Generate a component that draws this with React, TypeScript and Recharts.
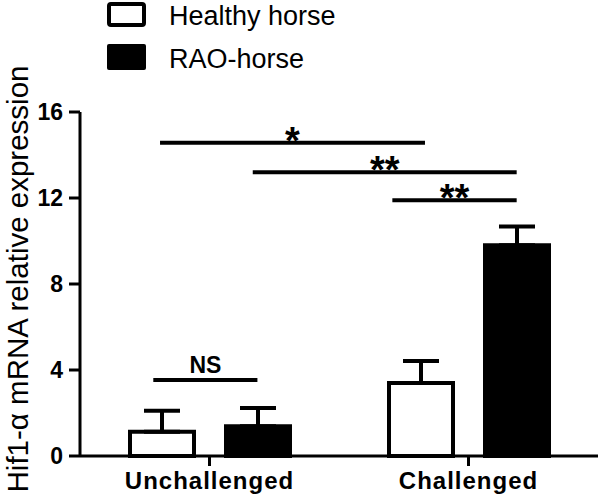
import React from 'react';
import {
  ComposedChart,
  Bar,
  XAxis,
  YAxis,
  ErrorBar,
  ReferenceLine,
} from 'recharts';

// values
const categories = ['Unchallenged', 'Challenged'];
const healthyMean = [1.13, 3.4];
const healthyErr = [0.98, 1.02];
const raoMean = [1.38, 9.8];
const raoErr = [0.85, 0.87];
const yTicks = [0, 4, 8, 12, 16];

// significance brackets, x in group units (0..2 across the plot), y in data units
const sigLines = [
  { x1: 0.309, x2: 1.332, y: 14.57, label: '*' },
  { x1: 0.667, x2: 1.686, y: 13.2, label: '**' },
  { x1: 1.206, x2: 1.686, y: 11.9, label: '**' },
  { x1: 0.283, x2: 0.685, y: 3.53, label: 'NS' },
];

const data = categories.map((name, i) => ({
  name,
  pos: i + 0.5,
  healthy: healthyMean[i],
  healthyErr: [0, healthyErr[i]],
  rao: raoMean[i],
  raoErr: [0, raoErr[i]],
}));

const FONT = '"Liberation Sans", Arial, sans-serif';

const LegendBox = () => (
  <svg width={360} height={78} style={{ position: 'absolute', left: 0, top: 0 }}>
    <rect x={109} y={4} width={35} height={21} rx={2} fill="#fff" stroke="#000" strokeWidth={4} />
    <text x={169} y={24.5} fontFamily={FONT} fontSize={27} fill="#000">
      Healthy horse
    </text>
    <rect x={107} y={44} width={39} height={26} rx={2} fill="#000" />
    <text x={169} y={68} fontFamily={FONT} fontSize={27} fill="#000">
      RAO-horse
    </text>
  </svg>
);

const YLabel = ({ viewBox }: any) => {
  const cy = viewBox.y + viewBox.height / 2 - 5;
  const x = 28;
  return (
    <text
      x={x}
      y={cy}
      transform={`rotate(-90, ${x}, ${cy})`}
      textAnchor="middle"
      fontFamily={FONT}
      fontSize={29.5}
      fill="#000"
    >
      Hif1-α mRNA relative expression
    </text>
  );
};

export default function App() {
  return (
    <div style={{ position: 'absolute', left: 0, top: 0, width: 600, height: 497, background: '#fff' }}>
      <ComposedChart
        width={600}
        height={497}
        data={data}
        margin={{ top: 112, right: 2, bottom: 11, left: 0 }}
        barSize={64}
        barGap={32}
      >
        <XAxis
          dataKey="name"
          height={30}
          axisLine={{ stroke: '#000', strokeWidth: 3 }}
          tickLine={{ stroke: '#000', strokeWidth: 3 }}
          tickSize={10}
          tickMargin={6}
          tick={{ fill: '#000', fontSize: 24, fontWeight: 700, fontFamily: FONT, letterSpacing: 1 }}
        />
        <XAxis
          xAxisId="pos"
          dataKey="pos"
          type="number"
          domain={[0, 2]}
          allowDataOverflow
          padding={{ left: 0, right: 0 }}
          height={0}
          hide
        />
        <YAxis
          width={80}
          domain={[0, 16]}
          ticks={yTicks}
          interval={0}
          axisLine={{ stroke: '#000', strokeWidth: 3 }}
          tickLine={{ stroke: '#000', strokeWidth: 3 }}
          tickSize={11}
          tickMargin={6}
          tick={{ fill: '#000', fontSize: 23, fontWeight: 700, fontFamily: FONT }}
          label={<YLabel />}
        />
        <Bar dataKey="healthy" fill="#fff" stroke="#000" strokeWidth={4} isAnimationActive={false}>
          <ErrorBar dataKey="healthyErr" direction="y" width={18} stroke="#000" strokeWidth={4} />
        </Bar>
        <Bar dataKey="rao" fill="#000" stroke="#000" strokeWidth={4} isAnimationActive={false}>
          <ErrorBar dataKey="raoErr" direction="y" width={18} stroke="#000" strokeWidth={4} />
        </Bar>
        {sigLines.map((s, i) => {
          const isStar = s.label !== 'NS';
          return (
            <ReferenceLine
              key={i}
              xAxisId="pos"
              segment={[
                { x: s.x1, y: s.y },
                { x: s.x2, y: s.y },
              ]}
              stroke="#000"
              strokeWidth={4}
              label={{
                value: s.label,
                position: 'top',
                offset: isStar ? -11 : 7,
                fill: '#000',
                fontSize: isStar ? 38 : 23,
                fontWeight: 700,
                fontFamily: FONT,
              }}
            />
          );
        })}
      </ComposedChart>
      <LegendBox />
    </div>
  );
}
